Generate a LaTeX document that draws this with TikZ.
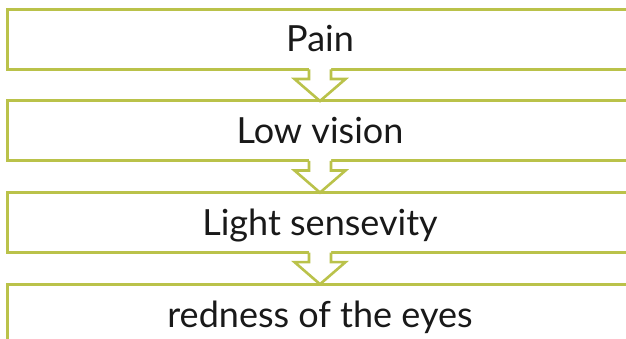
\documentclass[tikz,border=0pt]{standalone}
\usepackage{fontspec}
\setmainfont{Lato}
\definecolor{olive}{RGB}{186,194,74}
\tikzset{
  boxline/.style={draw=olive, line width=3pt},
  label/.style={font=\fontsize{36}{43}\selectfont, text=black!90, anchor=base},
  arrowfill/.style={fill=white},
  arrowline/.style={draw=olive, line width=2.6pt, line join=miter}
}
\begin{document}
\begin{tikzpicture}[x=1pt,y=-1pt]
\useasboundingbox (0,0) rectangle (626,339);
\clip (0,0) rectangle (626,339);
% boxes (right side runs past the picture edge)
\foreach \t/\n in {9.5/b1,101/b2,192.6/b3,284.2/b4}{
  \draw[boxline] (7,\t) rectangle (660,\t+60);
  \coordinate (\n) at (320,\t);
}
% texts
\node[label] (t1) at (320,52) {Pain};
\node[label] (t2) at (320,143.5) {Low vision};
\node[label] (t3) at (320,235) {Light sensevity};
\node[label] (t4) at (320,327) {redness of the eyes};
% arrows
\foreach \a/\b in {b1/b2,b2/b3,b3/b4}{
  \path[arrowfill] ([shift={(-11,58)}]\a) -- ([shift={(-11,69.5)}]\a) -- ([shift={(-25.5,69.5)}]\a)
     -- (\b) -- ([shift={(25.5,69.5)}]\a) -- ([shift={(11,69.5)}]\a) -- ([shift={(11,58)}]\a) -- cycle;
  \draw[arrowline] ([shift={(-11,60)}]\a) -- ([shift={(-11,69.5)}]\a) -- ([shift={(-25.5,69.5)}]\a)
     -- (\b) -- ([shift={(25.5,69.5)}]\a) -- ([shift={(11,69.5)}]\a) -- ([shift={(11,60)}]\a);
}
\end{tikzpicture}
\end{document}
